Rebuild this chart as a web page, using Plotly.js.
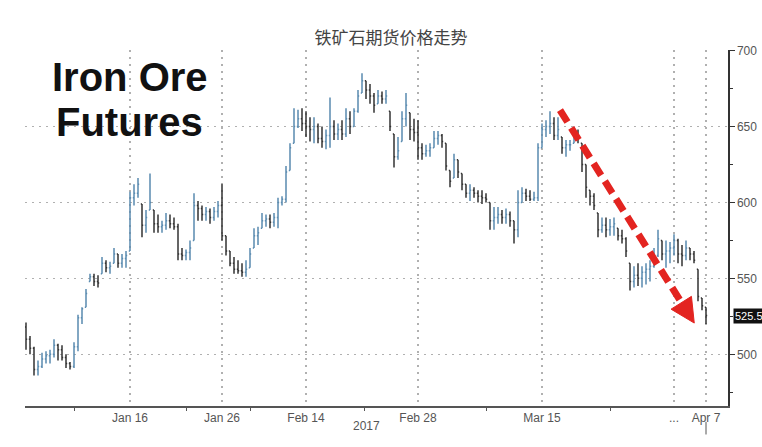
<!DOCTYPE html>
<html>
<head>
<meta charset="utf-8">
<script src="https://cdn.plot.ly/plotly-3.0.1.min.js"></script>
<style>html,body{margin:0;padding:0;background:#fff;}#chart{width:762px;height:447px;}</style>
</head>
<body>
<div id="chart"></div>
<script>
// Bar sequence (index of each bar along the time axis)
const opens = [518,510,504,490,492,497,499,500,506,503,498,494,492,505,524,531,548,551,548,553,560,557,560,566,560,563,
568,603,606,599,585,595,595,586,584,585,588,586,584,566,565,567,575,598,596,592,594,590,594,598,578,568,560,556,555,554,
557,570,578,583,588,589,587,590,600,602,621,639,650,655,652,650,648,650,642,640,644,650,645,648,645,655,650,660,672,680,
674,670,665,670,668,660,645,630,640,655,659,648,646,636,632,634,636,642,644,639,621,616,628,619,612,606,608,606,604,603,
600,588,590,592,590,592,588,582,600,606,604,602,603,636,648,650,652,644,643,636,638,639,646,639,625,608,604,593,582,585,
582,584,583,578,576,560,548,552,550,554,556,558,565,575,566,568,570,575,566,565,570,566,556,537,531];
const highs = [521,512,505,496,501,502,503,510,507,506,500,495,508,526,531,543,553,553,552,564,562,561,570,566,566,568,
607,612,616,599,595,619,595,592,588,593,592,590,586,570,569,575,606,601,598,597,596,597,601,612,578,568,564,562,560,562,
570,583,584,593,592,592,593,603,604,624,639,662,661,662,660,656,656,652,650,648,669,654,652,654,662,660,662,674,685,680,
678,672,674,673,674,660,645,643,660,672,659,655,654,639,638,639,647,647,645,639,621,632,628,619,612,612,610,608,608,606,
600,597,597,595,596,594,588,608,610,609,608,607,639,652,654,660,656,656,643,641,641,650,648,639,625,608,606,593,590,590,
589,590,583,582,577,560,558,560,558,560,562,570,582,575,575,574,579,576,572,575,570,568,556,537,531];
const lows = [503,500,486,486,491,494,494,498,496,496,491,490,491,502,520,531,548,545,544,553,554,553,560,557,557,557,
568,598,603,577,580,595,580,580,580,582,583,582,562,562,562,562,575,588,588,588,586,588,590,575,565,558,553,553,551,551,
557,570,572,583,584,583,584,583,598,600,621,639,649,647,643,640,639,639,636,635,636,641,641,641,643,645,650,659,672,668,
665,659,665,665,665,647,623,628,640,650,641,640,628,628,630,630,636,638,636,621,610,616,616,608,603,601,603,600,599,600,
582,582,586,586,586,584,573,577,600,601,601,601,601,636,643,645,641,641,632,630,634,639,639,620,603,598,595,577,580,577,
578,578,575,573,564,542,544,545,544,546,548,557,564,562,557,560,565,560,558,562,562,560,535,529,520];
const closes = [510,504,490,492,497,499,500,506,503,498,494,492,505,524,530,540,551,548,547,560,557,558,566,560,563,565,
603,606,612,585,590,600,586,584,585,588,586,584,566,565,567,570,598,596,592,594,590,594,598,578,568,560,556,555,554,556,
566,578,580,588,589,587,590,600,602,620,636,650,655,652,650,648,650,642,640,644,650,645,648,645,655,650,660,670,680,674,
670,664,670,668,670,650,630,634,655,664,648,646,636,632,634,636,642,644,640,624,614,628,620,612,606,608,606,604,603,602,
588,590,592,590,592,588,582,600,606,604,602,603,636,648,650,652,644,648,636,638,638,646,642,625,610,604,598,582,585,582,
584,586,578,576,568,548,552,550,554,556,558,565,576,566,568,570,575,566,565,570,566,562,538,532,525.5];
const barIndex = opens.map((_, i) => i);

// Axis ticks
const xTickVals = [26, 49, 70, 98, 129, 162, 170];
const xTickText = ['Jan 16', 'Jan 26', 'Feb 14', 'Feb 28', 'Mar 15', '...', 'Apr 7'];
const xMinorVals = [12, 40, 56, 84.5, 115, 146];
const yTickVals = [500, 550, 600, 650, 700];
const yearLabel = '2017';
const chartTitle = '铁矿石期货价格走势';
const headline = ['Iron Ore', 'Futures'];
const lastPrice = closes[closes.length - 1];

const trace = {
  type: 'ohlc',
  x: barIndex,
  open: opens, high: highs, low: lows, close: closes,
  increasing: {line: {color: '#5a8bb0', width: 1.5}},
  decreasing: {line: {color: '#333333', width: 1.5}},
  tickwidth: 0.3,
  hoverinfo: 'skip',
  showlegend: false
};

const lbl = {family: 'Liberation Sans Narrow, Liberation Sans, Arial, sans-serif', size: 12, color: '#555'};
const headFont = {family: 'Liberation Sans, Arial, sans-serif', size: 40, color: '#111', weight: 'bold'};

const layout = {
  width: 762, height: 447,
  margin: {l: 25, r: 34, t: 50, b: 41},
  paper_bgcolor: '#fff', plot_bgcolor: '#fff',
  title: {
    text: chartTitle, x: 0.513, xref: 'container', xanchor: 'center',
    y: 0.915, yref: 'container', yanchor: 'middle',
    font: {family: 'Noto Sans CJK SC, sans-serif', size: 17, color: '#444'}
  },
  xaxis: {
    range: [-0.25, 175.5],
    rangeslider: {visible: false},
    tickmode: 'array', tickvals: xTickVals, ticktext: xTickText,
    ticks: '', tickfont: lbl,
    showgrid: true, gridcolor: '#b0b0b0', griddash: '2px,5px', gridwidth: 1.2,
    showline: true, linecolor: '#555', linewidth: 2,
    zeroline: false, fixedrange: true,
    minor: {tickmode: 'array', tickvals: xMinorVals, ticks: 'outside', ticklen: 3, tickcolor: '#555', showgrid: false}
  },
  yaxis: {
    side: 'right', range: [466, 700.3],
    tickmode: 'array', tickvals: yTickVals,
    ticks: 'outside', ticklen: 5, tickcolor: '#333', tickwidth: 1.5,
    tickfont: lbl,
    showgrid: true, gridcolor: '#b0b0b0', griddash: '2px,5px', gridwidth: 1.2,
    showline: true, linecolor: '#333', linewidth: 1.5,
    zeroline: false, fixedrange: true,
    minor: {dtick: 25, ticks: 'outside', ticklen: 3, tickcolor: '#333', showgrid: false}
  },
  shapes: [
    {type: 'line', xref: 'paper', yref: 'paper', x0: 0.761, y0: 0.831, x1: 0.934, y1: 0.290,
     line: {color: '#e32420', width: 7, dash: '14px,7px'}},
    {type: 'path', xref: 'paper', yref: 'paper',
     path: 'M0.952,0.233 L0.948,0.308 L0.919,0.272 Z',
     fillcolor: '#e32420', line: {color: '#e32420', width: 1}},
    {type: 'line', xref: 'x', yref: 'paper', x0: 170, x1: 170, y0: -0.045, y1: -0.08,
     line: {color: '#555', width: 1}}
  ],
  annotations: [
    {text: headline[0], xref: 'paper', yref: 'paper', x: 0.149, y: 0.923, xanchor: 'center', yanchor: 'middle',
     showarrow: false, font: headFont},
    {text: headline[1], xref: 'paper', yref: 'paper', x: 0.149, y: 0.797, xanchor: 'center', yanchor: 'middle',
     showarrow: false, font: headFont},
    {text: yearLabel, xref: 'paper', yref: 'paper', x: 0.486, y: -0.056, xanchor: 'center', yanchor: 'middle',
     showarrow: false, font: lbl},
    {text: String(lastPrice), xref: 'paper', yref: 'y', x: 1.0, y: lastPrice, xanchor: 'left', yanchor: 'middle',
     xshift: 5, showarrow: false, bgcolor: '#111', borderpad: 1,
     font: {family: 'Liberation Sans Narrow, Liberation Sans, Arial, sans-serif', size: 11, color: '#fff'}}
  ]
};

Plotly.newPlot('chart', [trace], layout, {staticPlot: true, displayModeBar: false});
</script>
</body>
</html>
